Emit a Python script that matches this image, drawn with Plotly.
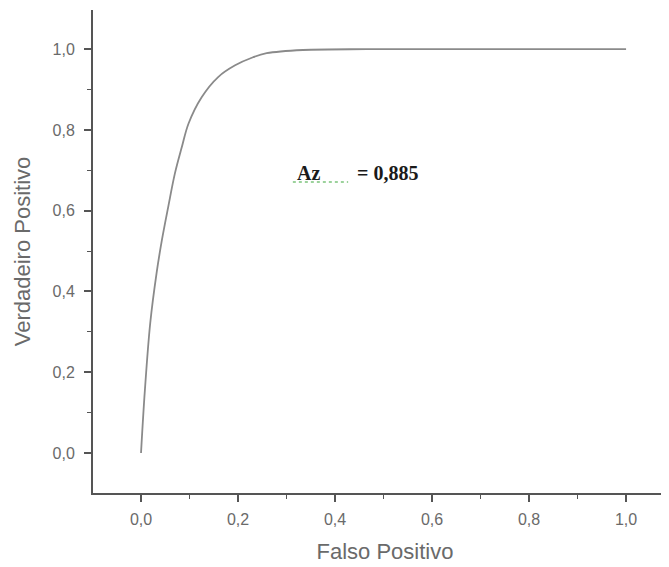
import plotly.graph_objects as go

# ROC curve
fp = [0.0, 0.008, 0.019, 0.032, 0.043, 0.056, 0.070, 0.084, 0.098, 0.125,
      0.159, 0.194, 0.231, 0.259, 0.334, 0.465, 0.6, 0.8, 1.0]
vp = [0.0, 0.156, 0.322, 0.445, 0.527, 0.609, 0.693, 0.757, 0.816, 0.881,
      0.931, 0.960, 0.980, 0.990, 0.998, 1.0, 1.0, 1.0, 1.0]
tick_vals = [0.0, 0.2, 0.4, 0.6, 0.8, 1.0]
az_name = "<b>Az</b>"
az_value = "<b>= 0,885</b>"

axis_col = "#555555"
text_col = "#6a6a6a"

fig = go.Figure()
fig.add_trace(go.Scatter(
    x=fp, y=vp, mode="lines",
    line=dict(color="#8a8a8a", width=1.8, shape="spline", smoothing=1.0),
    showlegend=False, hoverinfo="skip"
))

# "Az = 0,885" label, with the green spell-check squiggle under "Az"
label_font = dict(family="Liberation Serif", size=20, color="#1a1a1a")
fig.add_annotation(x=0.3175, y=0.693, text=az_name, showarrow=False,
                   font=label_font, xanchor="left", yanchor="middle")
fig.add_annotation(x=0.441, y=0.693, text=az_value, showarrow=False,
                   font=label_font, xanchor="left", yanchor="middle")
fig.add_shape(type="line", x0=0.313, x1=0.427, y0=0.671, y1=0.671,
              line=dict(color="#7cc47c", width=1.5, dash="dot"))

axis_common = dict(
    automargin=False,
    showgrid=False, zeroline=False, showline=True, linecolor=axis_col, linewidth=2,
    ticks="outside", ticklen=7, tickwidth=1.5, tickcolor=axis_col,
    tickvals=tick_vals, tickformat=".1f",
    tickfont=dict(family="Liberation Sans", size=16, color=text_col),
    minor=dict(dtick=0.1, tick0=0, ticks="outside", ticklen=4, tickwidth=1, tickcolor=axis_col),
    title_font=dict(family="Liberation Sans", size=22, color=text_col),
)

fig.update_layout(
    width=669, height=567,
    paper_bgcolor="white", plot_bgcolor="white",
    separators=",.",
    margin=dict(l=85, r=0, t=2, b=82),
    xaxis=dict(range=[-0.099, 1.105], ticklabelstandoff=4,
               title=dict(text="Falso Positivo", standoff=16), **axis_common),
    yaxis=dict(range=[-0.099, 1.097], ticklabelstandoff=6,
               title=dict(text="Verdadeiro Positivo", standoff=16), **axis_common),
)

fig.write_html("out.html")
